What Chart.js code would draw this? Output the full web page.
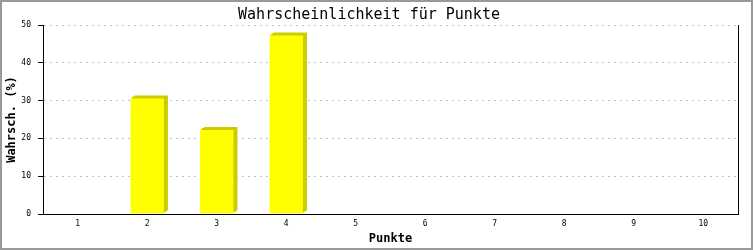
<!DOCTYPE html>
<html>
<head>
<meta charset="utf-8">
<script src="https://cdn.jsdelivr.net/npm/chart.js@4/dist/chart.umd.min.js"></script>
<style>
  html, body { margin: 0; padding: 0; background: #fff; }
  canvas { display: block; }
</style>
</head>
<body>
<canvas id="myChart" width="753" height="250"></canvas>
<script>
// data
var punkte = ['1', '2', '3', '4', '5', '6', '7', '8', '9', '10'];
var wahrsch = [0, 30.56, 22.22, 47.22, 0, 0, 0, 0, 0, 0];
var yTicks = [0, 10, 20, 30, 40, 50];

var monoFont = "'DejaVu Sans Mono', 'Liberation Mono', monospace";

// dark yellow side for the fake 3d look, plus frame lines
var bars3d = {
    id: 'bars3d',
    beforeDatasetsDraw: function (chart) {
        var ctx = chart.ctx;
        var meta = chart.getDatasetMeta(0);
        ctx.save();
        ctx.fillStyle = '#cccc00';
        meta.data.forEach(function (bar, i) {
            if (!wahrsch[i]) return;
            var left = bar.x - bar.width / 2;
            var h = bar.base - bar.y;
            for (var k = 1; k <= 4; k++) {
                var dy = Math.round(k * 0.75);
                ctx.fillRect(left + k, bar.y - dy, bar.width, h);
            }
        });
        ctx.restore();
    },
    afterDraw: function (chart) {
        var ctx = chart.ctx;
        var a = chart.chartArea;
        ctx.save();
        ctx.strokeStyle = '#000';
        ctx.lineWidth = 1;
        ctx.beginPath();
        ctx.moveTo(Math.round(a.right) + 0.5, a.top);
        ctx.lineTo(Math.round(a.right) + 0.5, a.bottom);
        ctx.stroke();
        // outer frame
        ctx.fillStyle = '#999999';
        ctx.fillRect(0, 0, 753, 2);
        ctx.fillRect(0, 248, 753, 2);
        ctx.fillRect(0, 0, 2, 250);
        ctx.fillRect(751, 0, 2, 250);
        ctx.restore();
    }
};

var ctx = document.getElementById('myChart').getContext('2d');
var chart = new Chart(ctx, {
    type: 'bar',
    data: {
        labels: punkte,
        datasets: [{
            label: 'Wahrscheinlichkeit',
            data: wahrsch,
            backgroundColor: '#ffff00',
            borderWidth: 0,
            categoryPercentage: 1.0,
            barPercentage: 0.48
        }]
    },
    options: {
        responsive: false,
        animation: false,
        devicePixelRatio: 1,
        layout: { padding: { left: 0, right: 15, top: 0, bottom: 0 } },
        plugins: {
            legend: { display: false },
            tooltip: { enabled: false },
            title: {
                display: true,
                text: 'Wahrscheinlichkeit für Punkte',
                color: '#000',
                font: { family: monoFont, size: 15, weight: 'normal' },
                padding: { top: 6, bottom: 1 }
            }
        },
        scales: {
            x: {
                grid: { display: false, drawTicks: false },
                border: { display: true, color: '#000', width: 1 },
                ticks: {
                    color: '#000',
                    font: { family: monoFont, size: 8 },
                    padding: 5,
                    maxRotation: 0
                },
                title: {
                    display: true,
                    text: 'Punkte',
                    color: '#000',
                    font: { family: monoFont, size: 12, weight: 'bold' },
                    padding: { top: 0, bottom: 4 }
                },
                afterFit: function (scale) { scale.height = 36; }
            },
            y: {
                min: 0,
                max: 50,
                afterBuildTicks: function (scale) {
                    scale.ticks = yTicks.map(function (v) { return { value: v }; });
                },
                grid: {
                    color: '#c0c0c0',
                    drawTicks: true,
                    tickLength: 5,
                    tickColor: '#000',
                    tickBorderDash: []
                },
                border: { display: true, color: '#000', width: 1, dash: [2, 4] },
                ticks: {
                    color: '#000',
                    font: { family: monoFont, size: 8 },
                    padding: 7
                },
                title: {
                    display: true,
                    text: 'Wahrsch. (%)',
                    color: '#000',
                    font: { family: monoFont, size: 12, weight: 'bold' },
                    padding: { top: 5, bottom: 0 }
                },
                afterFit: function (scale) { scale.width = 43; }
            }
        }
    },
    plugins: [bars3d]
});
</script>
</body>
</html>
